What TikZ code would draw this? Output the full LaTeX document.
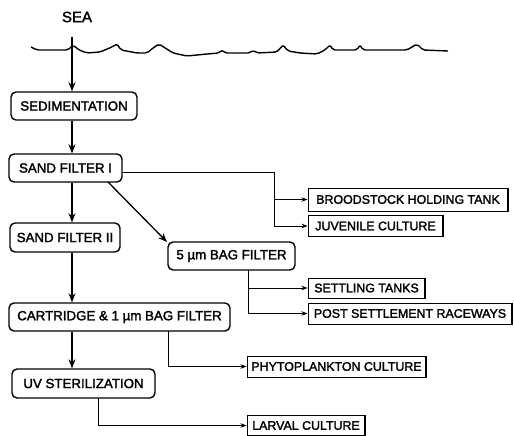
\documentclass[tikz,border=0pt]{standalone}
\usepackage{fontspec}
\setmainfont{Liberation Sans}
\newfontfamily\labfont[FakeBold=2]{Liberation Sans}
\usetikzlibrary{arrows.meta}
\begin{document}
\begin{tikzpicture}[x=1pt,y=-1pt,
  mainbox/.style={draw,line width=1.4pt,rounded corners=5pt,inner sep=0pt,
    font=\labfont\fontsize{13.3}{15}\selectfont},
  endbox/.style={draw,line width=1pt,inner sep=0pt,
    font=\labfont\fontsize{12.4}{14}\selectfont},
  mainarrow/.style={line width=1.3pt,-{Stealth[length=9pt,width=7pt]}},
  brancharrow/.style={line width=0.7pt,-{Stealth[length=6pt,width=4.5pt]}},
  branchline/.style={line width=0.7pt}]
\useasboundingbox (0,0) rectangle (514,436);
% sea
\node[font=\labfont\fontsize{15}{17}\selectfont] (sea) at (77,17) {SEA};
\draw[line width=1.4pt,line join=round,rounded corners=2pt] (31,47) -- (37,50) -- (68,50) -- (73,45)
  -- (79,50) -- (87,53) -- (100,52) -- (112,47) -- (117,44) -- (121,50) -- (137,53) -- (147,53)
  -- (153,48) -- (159,44) -- (173,53) -- (187,56) -- (207,54) -- (219,53) -- (222,50) -- (225,53)
  -- (250,53) -- (253,50) -- (257,53) -- (277,52) -- (283,45) -- (288,51) -- (300,53) -- (317,54)
  -- (325,50) -- (330,45) -- (333,50) -- (357,50) -- (360,45) -- (363,50) -- (407,50) -- (417,44)
  -- (423,50) -- (448,51);
\coordinate (seatop) at (72,37);
% main boxes
\node[mainbox,minimum width=126pt,minimum height=28pt] (sed) at (74,106) {SEDIMENTATION};
\node[mainbox,minimum width=113pt,minimum height=28pt] (sf1) at (65.5,168) {SAND FILTER I};
\node[mainbox,minimum width=110pt,minimum height=29pt] (sf2) at (65,237.5) {SAND FILTER II};
\node[mainbox,minimum width=127pt,minimum height=28pt] (bag5) at (231.5,256) {5 µm BAG FILTER};
\node[mainbox,minimum width=221pt,minimum height=28pt] (cart) at (119.5,317) {CARTRIDGE \& 1 µm BAG FILTER};
\node[mainbox,minimum width=143pt,minimum height=29pt] (uv) at (83.5,383.5) {UV STERILIZATION};
% end boxes
\node[endbox,minimum width=200pt,minimum height=23pt] (brood) at (408,199.5) {BROODSTOCK HOLDING TANK};
\node[endbox,minimum width=135pt,minimum height=21pt] (juv) at (375.5,226) {JUVENILE CULTURE};
\node[endbox,minimum width=117pt,minimum height=20pt] (settle) at (366.5,288) {SETTLING TANKS};
\node[endbox,minimum width=204pt,minimum height=21pt] (post) at (410,313.5) {POST SETTLEMENT RACEWAYS};
\node[endbox,minimum width=179pt,minimum height=21pt] (phyto) at (336.5,366.5) {PHYTOPLANKTON CULTURE};
\node[endbox,minimum width=118pt,minimum height=20pt] (larval) at (306,425.5) {LARVAL CULTURE};
\foreach \n in {brood,juv,settle,post,phyto,larval}
  \draw[line width=1.8pt] ([xshift=-0.4pt]\n.north east) -- ([xshift=-0.4pt]\n.south east);
% main flow
\draw[mainarrow] (seatop) -- (seatop |- sed.north);
\draw[mainarrow] (sed.south -| seatop) -- (seatop |- sf1.north);
\draw[mainarrow] (sf1.south -| seatop) -- (seatop |- sf2.north);
\draw[mainarrow] (sf2.south -| seatop) -- (seatop |- cart.north);
\draw[mainarrow] (cart.south -| seatop) -- (seatop |- uv.north);
\coordinate (sf1d) at (108,182);
\draw[mainarrow] (sf1d) -- (167,242) coordinate (bagin);
% branches
\coordinate (j1) at (274,172);
\draw[branchline] (sf1.east |- j1) -- (j1) -- (j1 |- juv);
\draw[brancharrow] (j1 |- brood) -- (brood.west);
\draw[brancharrow] (j1 |- juv) -- (juv.west);
\coordinate (j2) at (248,270);
\draw[branchline] (j2) -- (j2 |- post);
\draw[brancharrow] (j2 |- settle) -- (settle.west);
\draw[brancharrow] (j2 |- post) -- (post.west);
\coordinate (j3) at (168,331);
\draw[brancharrow] (j3) |- (phyto.west);
\coordinate (j4) at (98,398);
\draw[brancharrow] (j4) |- (larval.west);
\end{tikzpicture}
\end{document}
